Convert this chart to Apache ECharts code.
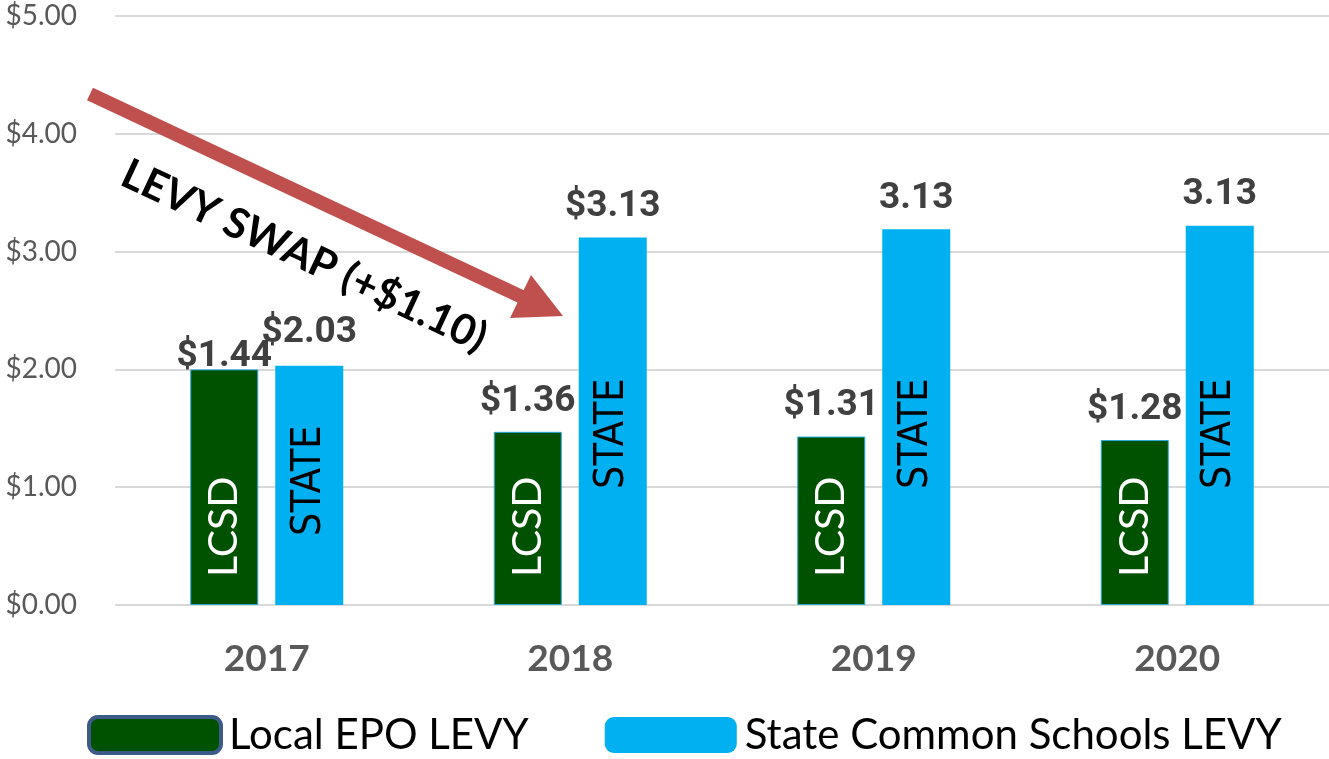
<!DOCTYPE html>
<html>
<head>
<meta charset="utf-8">
<script src="https://cdn.jsdelivr.net/npm/echarts@6/dist/echarts.min.js"></script>
<style>
  html, body { margin: 0; padding: 0; background: #fff; }
  #chart { width: 1329px; height: 759px; }
</style>
</head>
<body>
<div id="chart"></div>
<script>
// data
const years = ["2017", "2018", "2019", "2020"];
const seriesNames = ["Local EPO LEVY", "State Common Schools LEVY"];
const lcsdValues = [2.0, 1.47, 1.43, 1.4];
const stateValues = [2.03, 3.12, 3.19, 3.22];
const lcsdLabels = ["$1.44", "$1.36", "$1.31", "$1.28"];
const stateLabels = ["$2.03", "$3.13", "3.13", "3.13"];
const lcsdText = "LCSD";
const stateText = "STATE";
const swapText = "LEVY SWAP (+$1.10)";

const GREEN = "#005100";
const BLUE = "#00B0F0";
const condensed = '"DejaVu Sans Condensed", "DejaVu Sans", sans-serif';

// label tweaks per bar
const lcsdTopDist = [-6, 12, 12, 12];
const stateTopDist = [15, 12, 12, 12];
const stateInsideDist = [73, 120, 120, 120];

const chart = echarts.init(document.getElementById("chart"));

const topLabel = {
  show: true,
  position: "top",
  fontFamily: "Roboto",
  fontWeight: "bold",
  fontSize: 37,
  color: "#404040"
};

const option = {
  animation: false,
  grid: { left: 115, right: 0, top: 16, bottom: 154 },
  legend: {
    data: [
      { name: seriesNames[0], itemStyle: { borderColor: "#3D5B88", borderWidth: 4 } },
      { name: seriesNames[1] }
    ],
    left: 82,
    top: 709,
    icon: "roundRect",
    itemWidth: 132,
    itemHeight: 36,
    itemGap: 76,
    textStyle: { fontFamily: "Lato", fontSize: 42, color: "#000", padding: [0, 0, 0, 3] }
  },
  xAxis: [
    {
      type: "category",
      data: years,
      axisLine: { show: false },
      axisTick: { show: false },
      axisLabel: { fontFamily: "Lato", fontWeight: "bold", fontSize: 37, color: "#595959", margin: 36 }
    },
    { type: "category", data: years, show: false }
  ],
  yAxis: {
    type: "value",
    min: 0,
    max: 5,
    interval: 1,
    axisLine: { show: false },
    axisTick: { show: false },
    splitLine: { lineStyle: { color: "#D9D9D9", width: 2 } },
    axisLabel: {
      fontFamily: "Lato",
      fontSize: 28,
      color: "#595959",
      margin: 38,
      formatter: (v) => "$" + v.toFixed(2)
    }
  },
  series: [
    {
      name: seriesNames[0],
      type: "bar",
      barWidth: 68,
      barGap: "25%",
      itemStyle: { color: GREEN, borderColor: "#2BA6DC", borderWidth: 1 },
      data: lcsdValues.map((v, i) => ({ value: v, label: { distance: lcsdTopDist[i] } })),
      label: Object.assign({}, topLabel, { formatter: (p) => lcsdLabels[p.dataIndex] })
    },
    {
      name: seriesNames[1],
      type: "bar",
      barWidth: 68,
      itemStyle: { color: BLUE },
      data: stateValues.map((v, i) => ({ value: v, label: { distance: stateTopDist[i] } })),
      label: Object.assign({}, topLabel, { formatter: (p) => stateLabels[p.dataIndex] })
    },
    {
      name: "lcsd-text",
      type: "bar",
      xAxisIndex: 1,
      barWidth: 68,
      barGap: "25%",
      silent: true,
      itemStyle: { color: "transparent" },
      data: lcsdValues,
      label: {
        show: true,
        position: "insideBottom",
        distance: 22,
        rotate: 90,
        align: "left",
        verticalAlign: "middle",
        offset: [6, 0],
        fontFamily: "Lato",
        fontSize: 41,
        color: "#fff",
        formatter: () => lcsdText
      }
    },
    {
      name: "state-text",
      type: "bar",
      xAxisIndex: 1,
      barWidth: 68,
      silent: true,
      itemStyle: { color: "transparent" },
      data: stateValues.map((v, i) => ({ value: v, label: { distance: stateInsideDist[i] } })),
      label: {
        show: true,
        position: "insideBottom",
        rotate: 90,
        align: "left",
        verticalAlign: "middle",
        offset: [-4, 0],
        fontFamily: condensed,
        fontSize: 41,
        color: "#000",
        formatter: () => stateText
      }
    }
  ],
  graphic: [
    {
      type: "line",
      z: 100,
      shape: { x1: 90, y1: 94, x2: 522, y2: 297 },
      style: { stroke: "#C0504D", lineWidth: 14 }
    },
    {
      type: "polygon",
      z: 100,
      shape: { points: [[563, 316], [531, 275], [510, 318]] },
      style: { fill: "#C0504D" }
    },
    {
      type: "text",
      z: 100,
      x: 304,
      y: 256,
      rotation: -25.1 * Math.PI / 180,
      style: {
        text: swapText,
        fontFamily: "Lato",
        fontWeight: "bold",
        fontSize: 42,
        fill: "#000",
        align: "center",
        verticalAlign: "middle"
      }
    }
  ]
};

chart.setOption(option);
</script>
</body>
</html>
